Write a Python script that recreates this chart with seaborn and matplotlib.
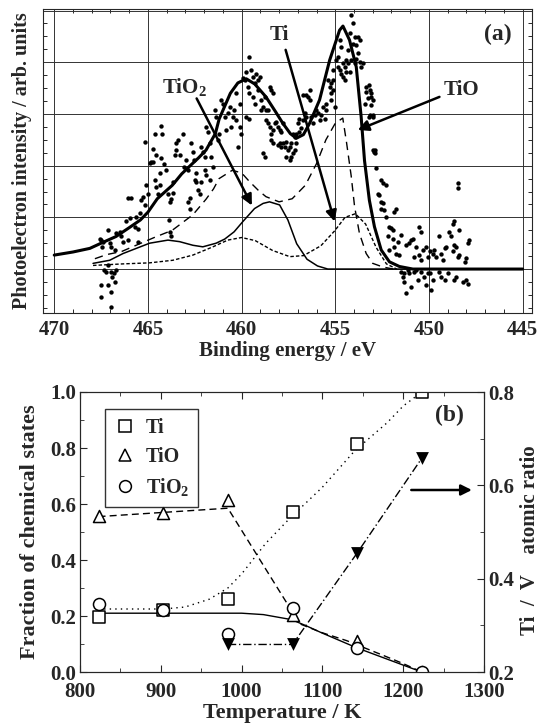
import numpy as np
import pandas as pd
import matplotlib
matplotlib.use("Agg")
import matplotlib.pyplot as plt
from matplotlib.lines import Line2D
from matplotlib.ticker import MultipleLocator, FormatStrFormatter
import seaborn as sns

# ---- (a) XPS Ti 2p spectrum: measured points (binding energy / eV, intensity) ----
scat_x = [467.49, 467.13, 466.96, 466.83, 466.72, 467.36, 467.22, 466.90, 466.78, 467.49,
          466.99, 466.96, 467.13, 467.44, 467.58, 467.49, 467.40, 467.13, 467.04, 466.96,
          466.78, 466.69, 466.51, 466.42, 466.33, 466.16, 466.07, 465.98, 465.71, 465.53,
          465.62, 465.44, 466.07, 465.89, 465.53, 465.36, 465.27, 465.18, 465.09, 465.00,
          464.91, 464.82, 464.73, 464.64, 464.56, 464.56, 464.47, 464.38, 464.38, 464.29,
          464.64, 464.73, 464.29, 464.24, 464.16, 464.06, 463.93, 463.84, 463.76, 463.67,
          463.67, 463.88, 463.84, 463.76, 463.58, 463.52, 463.49, 463.40, 463.31, 463.13,
          463.10, 462.96, 462.87, 462.87, 462.78, 462.78, 462.69, 462.60, 462.56, 462.51,
          462.42, 462.42, 462.33, 462.24, 465.18,
          462.15, 462.07, 461.98, 461.89, 461.80, 461.71, 461.62, 461.98, 461.89, 461.71,
          462.15, 461.53, 461.44, 461.35, 461.27, 461.18, 461.09, 461.00, 460.91, 460.82,
          460.73, 460.64, 460.55, 460.47, 460.38, 460.29, 460.20, 460.11, 460.02, 460.11,
          460.29, 459.93, 459.84, 459.75, 459.58, 459.49, 459.40, 459.31, 459.22, 459.13,
          459.04, 459.66, 459.58, 459.40, 459.31, 459.13, 458.95, 458.86, 458.77, 458.60,
          458.51, 458.42, 458.33, 458.69, 458.95, 459.58, 459.75, 458.69, 458.60, 458.51,
          458.42, 458.33, 458.24, 458.15, 458.06, 457.97, 457.88, 457.80, 457.97, 457.88,
          458.06, 457.80, 457.71, 457.62, 457.53, 457.44, 457.35, 457.26, 457.17, 457.08,
          457.26, 457.44, 457.35, 457.62, 458.86, 458.77, 458.42, 458.33, 457.17, 457.08,
          456.91, 456.82, 456.99, 456.91, 456.73, 456.64, 456.55, 456.55, 456.46, 456.37,
          456.73, 456.37, 456.28, 456.19, 456.10, 456.02, 455.93, 455.84, 455.75, 455.66,
          455.57, 455.48, 455.39, 455.30, 455.21, 455.13, 455.04, 455.48, 455.21, 455.13,
          454.95, 454.86, 454.77, 454.68, 454.59, 454.50, 454.41, 454.32, 454.24, 454.15,
          454.06, 453.97, 453.88, 453.79, 453.70, 453.61, 454.86, 454.77, 454.68, 454.59,
          454.50, 454.41, 454.32, 454.24, 454.15, 454.06, 453.97, 453.88, 453.79, 453.70,
          453.52, 453.35, 453.17, 453.08, 452.99, 453.17, 452.99, 452.90, 452.90, 455.13,
          455.21,
          453.18, 453.09, 453.35, 453.26, 453.44, 453.09, 453.00, 453.18, 453.00, 452.91,
          452.82, 452.55, 452.46, 452.29, 452.73, 452.64, 452.55, 452.46, 452.55, 452.38,
          451.75, 451.84, 452.29, 452.11, 452.02, 451.93, 452.20, 451.93, 451.49, 451.66,
          451.84, 452.11, 451.75, 451.58, 451.22, 451.04, 450.95, 450.86, 450.51, 450.42,
          450.69, 450.78, 450.51, 450.42, 450.33, 450.15, 450.06, 449.97, 449.79, 449.71,
          449.62, 449.44, 449.35, 449.26, 449.17, 449.08, 448.91, 448.82, 448.73, 448.64,
          448.55, 448.46, 448.37, 448.64, 448.73, 448.37, 448.10, 447.92, 447.84, 448.01,
          448.46, 448.46,
          451.49, 451.40, 451.31, 451.22, 451.13, 450.95, 451.04, 450.78, 450.60, 450.42,
          450.24, 450.06, 450.15, 449.88, 449.79, 449.44, 449.35, 449.17, 448.99, 448.64,
          448.55, 448.19, 448.01, 447.92, 449.97, 450.69, 451.31]
scat_y = [-0.30, -0.30, -0.05, -0.07, -0.02, -0.02, -0.05, -0.15, -0.25, -0.54,
          -0.44, -0.74, 0.08, 0.43, 0.59, 0.57, 0.53, 0.75, 0.50, 0.43,
          0.37, 0.69, 0.72, 0.63, 0.53, 0.92, 0.56, 0.98, 0.82, 0.53,
          1.01, 1.08, 1.37, 1.37, 0.77, 1.33, 1.40, 1.24, 1.62, 1.46,
          2.06, 2.08, 2.08, 1.72, 1.59, 2.21, 1.46, 1.62, 1.85, 2.14,
          2.62, 2.33, 2.77, 2.62, 2.03, 1.91, 1.46, 1.30, 1.35, 1.48,
          1.69, 0.95, 0.72, 0.63, 2.21, 2.30, 2.44, 2.50, 2.21, 2.62,
          1.98, 2.11, 1.91, 1.30, 1.37, 1.17, 2.43, 2.27, 2.11, 1.72,
          1.85, 1.69, 1.53, 1.46, 2.46,
          2.37, 2.27, 2.17, 2.75, 2.66, 2.43, 2.17, 1.91, 1.82, 1.72,
          1.69, 1.98, 3.08, 2.95, 2.50, 2.62, 3.27, 3.20, 2.95, 2.69,
          3.01, 3.14, 2.75, 2.95, 3.08, 2.88, 2.37, 2.75, 2.62, 3.20,
          3.40, 3.69, 3.66, 3.82, 4.11, 3.85, 3.72, 3.59, 3.78, 3.66,
          3.72, 3.53, 3.40, 3.33, 3.20, 3.46, 3.27, 3.14, 3.33, 3.08,
          3.53, 3.46, 3.40, 3.08, 3.08, 2.91, 2.95, 2.88, 2.82, 2.75,
          2.62, 2.69, 2.82, 2.85, 2.75, 2.69, 2.66, 2.82, 2.43, 2.37,
          2.40, 2.43, 2.37, 2.46, 2.30, 2.37, 2.43, 2.24, 2.30, 2.43,
          2.62, 2.11, 2.17, 2.17, 2.24, 2.17, 2.50, 2.43, 2.56, 2.62,
          2.66, 2.72, 2.82, 2.91, 2.88, 3.01, 2.95, 3.37, 3.33, 3.27,
          3.37, 3.46, 2.95, 2.82, 2.98, 3.08, 3.01, 2.88, 2.98, 3.14,
          2.91, 3.20, 3.66, 3.53, 3.27, 3.46, 3.14, 3.08, 3.59, 3.85,
          4.04, 4.11, 4.43, 4.30, 3.98, 3.91, 4.04, 4.24, 4.56, 4.91,
          4.75, 4.49, 4.33, 4.17, 4.01, 3.91, 3.91, 3.85, 3.78, 3.72,
          3.66, 3.82, 3.98, 3.82, 4.04, 4.36, 3.98, 4.07, 4.49, 4.43,
          3.98, 3.53, 3.46, 3.33, 3.27, 2.98, 2.95, 2.30, 2.24, 3.66,
          3.40,
          3.56, 3.40, 3.43, 3.30, 3.20, 3.17, 2.98, 2.95, 2.30, 2.27,
          1.95, 1.72, 1.66, 1.62, 1.46, 1.43, 1.30, 1.27, 1.17, 1.14,
          1.17, 1.11, 1.01, 0.82, 0.79, 0.75, 0.63, 0.59, 0.66, 0.53,
          0.43, 0.37, 0.30, 0.27, 0.46, 0.50, 0.56, 0.59, 0.82, 0.72,
          0.43, 0.24, 0.27, 0.17, 0.37, 0.43, 0.24, 0.34, 0.30, 0.37,
          0.24, 0.63, 0.30, 0.17, 0.40, 0.43, 0.72, 0.63, 0.34, 0.46,
          0.43, 0.24, 0.27, 0.92, 0.88, 0.75, 0.14, 0.50, 0.56, 0.21,
          1.66, 1.56,
          -0.05, -0.15, -0.25, -0.47, -0.02, -0.34, -0.08, -0.05, -0.21, -0.05,
          -0.15, -0.08, -0.31, -0.41, -0.21, -0.05, -0.15, -0.21, -0.08, -0.21,
          -0.15, -0.25, -0.21, -0.28, -0.08, -0.02, -0.08]

# fitted envelope (thick solid)
fit_x = [470.0, 469.0, 468.1, 467.5, 466.7, 466.0, 465.4, 465.0, 464.5, 463.7,
         463.2, 462.8, 462.3, 461.9, 461.4, 461.2, 460.6, 460.2, 459.75, 459.3,
         458.7, 458.2, 457.8, 457.4, 457.08, 456.7, 456.37, 455.84, 455.3, 454.77,
         454.59, 454.24, 453.88, 453.62, 453.44, 453.18, 452.91, 452.55, 452.11, 451.58,
         450.86, 445.0]
fit_y = [0.27, 0.33, 0.40, 0.50, 0.63, 0.80, 0.95, 1.10, 1.36, 1.62,
         1.84, 1.98, 2.15, 2.30, 2.62, 2.90, 3.40, 3.60, 3.68, 3.58,
         3.33, 3.05, 2.82, 2.62, 2.53, 2.60, 2.82, 3.27, 4.04, 4.62,
         4.70, 4.43, 3.91, 2.95, 2.10, 1.33, 0.82, 0.37, 0.14, 0.05,
         0.0, 0.0]

# TiO component (long dashes)
tio_x = [467.83, 467.2, 466.4, 465.5, 464.6, 463.7, 462.6, 461.9, 461.5, 461.2,
         460.5, 460.0, 459.6, 459.1, 458.7, 458.0, 457.3, 456.6, 456.0, 455.5,
         455.0, 454.6, 454.4, 454.15, 453.97, 453.71, 453.35, 453.0, 452.46, 451.9]
tio_y = [0.20, 0.28, 0.34, 0.48, 0.62, 0.75, 1.05, 1.35, 1.55, 1.75,
         1.91, 1.86, 1.70, 1.52, 1.40, 1.30, 1.36, 1.62, 2.04, 2.50,
         2.82, 2.92, 2.45, 1.80, 1.21, 0.69, 0.30, 0.11, 0.04, 0.0]

# TiO2 component (thin solid)
tio2_x = [467.93, 467.04, 466.33, 465.62, 464.91, 463.93, 463.31, 462.60, 462.07, 461.36,
          460.9, 460.4, 459.93, 459.31, 458.85, 458.51, 457.97, 457.53, 457.06, 456.51,
          455.95, 455.40, 445.0]
tio2_y = [0.11, 0.17, 0.30, 0.40, 0.50, 0.56, 0.53, 0.46, 0.43, 0.50,
          0.58, 0.72, 0.92, 1.17, 1.27, 1.30, 1.24, 0.95, 0.49, 0.19,
          0.06, 0.0, 0.0]

# Ti metal component (short dashes)
ti_x = [467.93, 466.33, 464.91, 463.67, 462.60, 461.53, 460.74, 460.00, 459.27, 458.35,
        457.43, 456.69, 455.77, 455.03, 454.48, 453.93, 453.38, 452.82, 452.27, 451.72]
ti_y = [0.07, 0.10, 0.12, 0.17, 0.27, 0.43, 0.56, 0.61, 0.55, 0.36,
        0.24, 0.26, 0.45, 0.74, 1.00, 1.07, 0.87, 0.42, 0.10, 0.0]

# ---- (b) fraction of chemical states vs temperature ----
temps = [823, 903, 983, 1063, 1143, 1223]
frac_ti = [0.196, 0.221, 0.261, 0.573, 0.814, 1.0]
frac_tio = [0.558, 0.567, 0.614, 0.205, 0.11, 0.0]
frac_tio2 = [0.243, 0.221, 0.134, 0.229, 0.087, 0.0]

ratio_t = [983, 1063, 1143, 1223]
ratio_tiv = [0.259, 0.259, 0.455, 0.658]

# guide curves drawn through the points
ti_curve_t = [823, 903, 930, 960, 983, 1000, 1030, 1060, 1100, 1140, 1180, 1200, 1223]
ti_curve_f = [0.225, 0.225, 0.232, 0.26, 0.30, 0.35, 0.46, 0.55, 0.66, 0.79, 0.89, 0.95, 1.0]
tio_curve_t = [823, 903, 983, 1072, 1100, 1130, 1173, 1200, 1223]
tio_curve_f = [0.555, 0.57, 0.585, 0.172, 0.14, 0.112, 0.062, 0.03, 0.0]
tio2_curve_t = [823, 903, 1000, 1027, 1062, 1080, 1099, 1142, 1181, 1223]
tio2_curve_f = [0.21, 0.21, 0.21, 0.205, 0.187, 0.165, 0.14, 0.087, 0.045, 0.0]

sns.set_style("ticks")
plt.rcParams['font.family'] = ['Liberation Serif', 'DejaVu Serif']
plt.rcParams['font.weight'] = 'bold'
plt.rcParams['axes.labelweight'] = 'bold'
plt.rcParams['mathtext.fontset'] = 'custom'
plt.rcParams['mathtext.rm'] = 'Liberation Serif:bold'
plt.rcParams['mathtext.default'] = 'rm'

fig = plt.figure(figsize=(5.43, 7.27), dpi=100)
W, H = 543, 727
ax_a = fig.add_axes([43 / W, 1 - 313 / H, (532 - 43) / W, (313 - 9) / H])
ax_b = fig.add_axes([80 / W, 1 - 672 / H, (484 - 80) / W, (672 - 392) / H])

# ---------------- panel (a) ----------------
ax_a.grid(True, which='major', color='#333333', lw=0.7)
ax_a.set_axisbelow(True)
sns.scatterplot(x=scat_x, y=scat_y, ax=ax_a, color='black', s=10, linewidth=0, zorder=3)
sns.lineplot(x=tio2_x, y=tio2_y, ax=ax_a, color='black', lw=1.1, sort=False, zorder=4)
sns.lineplot(x=ti_x, y=ti_y, ax=ax_a, color='black', lw=1.0, sort=False, zorder=4,
             linestyle=(0, (2.5, 1.5)))
sns.lineplot(x=tio_x, y=tio_y, ax=ax_a, color='black', lw=1.0, sort=False, zorder=4,
             linestyle=(0, (6, 4)))
sns.lineplot(x=fit_x, y=fit_y, ax=ax_a, color='black', lw=2.2, sort=False, zorder=5)

ax_a.set_xlim(470.6, 444.5)
ax_a.set_ylim(-0.85, 5.03)
ax_a.xaxis.set_major_locator(MultipleLocator(5))
ax_a.xaxis.set_minor_locator(MultipleLocator(1))
ax_a.yaxis.set_major_locator(MultipleLocator(1))
ax_a.yaxis.set_minor_locator(MultipleLocator(0.25))
ax_a.tick_params(which='both', direction='in', top=True, right=True, labelsize=15)
ax_a.tick_params(which='major', length=0, pad=5)
ax_a.tick_params(which='minor', length=3, width=0.7)
ax_a.set_yticklabels([])
ax_a.set_xlabel('Binding energy / eV', fontsize=15, labelpad=1)
ax_a.set_ylabel('Photoelectron intensity / arb. units', fontsize=14.5, labelpad=3)

arrow = dict(arrowstyle='-|>', color='black', lw=1.8, mutation_scale=16, shrinkA=0, shrinkB=0)
ax_a.annotate('', xy=(459.45, 1.23), xytext=(462.40, 3.30), arrowprops=arrow, zorder=6)
ax_a.annotate('', xy=(455.04, 0.92), xytext=(457.65, 4.24), arrowprops=arrow, zorder=6)
ax_a.annotate('', xy=(453.8, 2.69), xytext=(449.44, 3.33), arrowprops=arrow, zorder=6)
ax_a.text(463.04, 3.53, 'TiO$_2$', fontsize=15, ha='center', va='center')
ax_a.text(457.98, 4.52, 'Ti', fontsize=15, ha='center', va='center')
ax_a.text(448.25, 3.46, 'TiO', fontsize=15, ha='center', va='center')
ax_a.text(446.35, 4.53, '(a)', fontsize=17, ha='center', va='center')

# ---------------- panel (b) ----------------
mk = dict(color='white', edgecolor='black', linewidth=1.1, s=75, zorder=5)
sns.lineplot(x=ti_curve_t, y=ti_curve_f, ax=ax_b, color='black', lw=1.0, sort=False,
             linestyle=(0, (1, 3)))
sns.lineplot(x=tio_curve_t, y=tio_curve_f, ax=ax_b, color='black', lw=1.0, sort=False,
             linestyle=(0, (5, 3)))
sns.lineplot(x=tio2_curve_t, y=tio2_curve_f, ax=ax_b, color='black', lw=1.0, sort=False)
sns.scatterplot(x=temps, y=frac_ti, ax=ax_b, marker='s', **mk)
sns.scatterplot(x=temps, y=frac_tio, ax=ax_b, marker='^', **mk)
sns.scatterplot(x=temps, y=frac_tio2, ax=ax_b, marker='o', **mk)

ax_b.set_xlim(800, 1300)
ax_b.set_ylim(0, 1.0)
ax_b.xaxis.set_major_locator(MultipleLocator(100))
ax_b.xaxis.set_minor_locator(MultipleLocator(50))
ax_b.yaxis.set_major_locator(MultipleLocator(0.2))
ax_b.yaxis.set_minor_locator(MultipleLocator(0.1))
ax_b.tick_params(which='both', direction='in', top=True, labelsize=15)
ax_b.tick_params(which='major', length=5)
ax_b.tick_params(which='minor', length=3)
ax_b.tick_params(axis='x', which='major', pad=7)
ax_b.tick_params(axis='y', which='major', pad=3)
ax_b.yaxis.set_major_formatter(FormatStrFormatter('%.1f'))
ax_b.set_xlabel('Temperature / K', fontsize=16, labelpad=1)
ax_b.set_ylabel('Fraction of chemical states', fontsize=16, labelpad=7)

ax_r = ax_b.twinx()
sns.lineplot(x=ratio_t, y=ratio_tiv, ax=ax_r, color='black', lw=1.0, sort=False,
             linestyle=(0, (6, 2, 1, 2)))
sns.scatterplot(x=ratio_t, y=ratio_tiv, ax=ax_r, marker='v', color='black', s=85,
                linewidth=0, zorder=5)
ax_r.set_ylim(0.2, 0.8)
ax_r.yaxis.set_major_locator(MultipleLocator(0.2))
ax_r.yaxis.set_minor_locator(MultipleLocator(0.1))
ax_r.yaxis.set_major_formatter(FormatStrFormatter('%.1f'))
ax_r.tick_params(which='both', direction='in', labelsize=15)
ax_r.tick_params(which='major', length=5, pad=3)
ax_r.tick_params(which='minor', length=3)
ax_r.set_ylabel('Ti  /  V    atomic ratio', fontsize=15)
ax_r.yaxis.set_label_coords(1.088, 0.47)

ax_b.annotate('', xy=(1285, 0.65), xytext=(1210, 0.65), arrowprops=arrow)
ax_b.text(1257, 0.915, '(b)', fontsize=17, ha='center', va='center')

handles = [Line2D([], [], ls='none', marker=m, markersize=8.5, markerfacecolor='white',
                  markeredgecolor='black', markeredgewidth=1.1) for m in ['s', '^', 'o']]
leg = ax_b.legend(handles, ['Ti', 'TiO', 'TiO$_2$'], loc='upper left',
                  bbox_to_anchor=(0.036, 0.976), fontsize=14.5, frameon=True, fancybox=False,
                  edgecolor='black', handletextpad=0.5, labelspacing=0.45, borderpad=0.45,
                  handlelength=1.1)
leg.get_frame().set_linewidth(1.0)

fig.savefig('out.png', dpi=100)
